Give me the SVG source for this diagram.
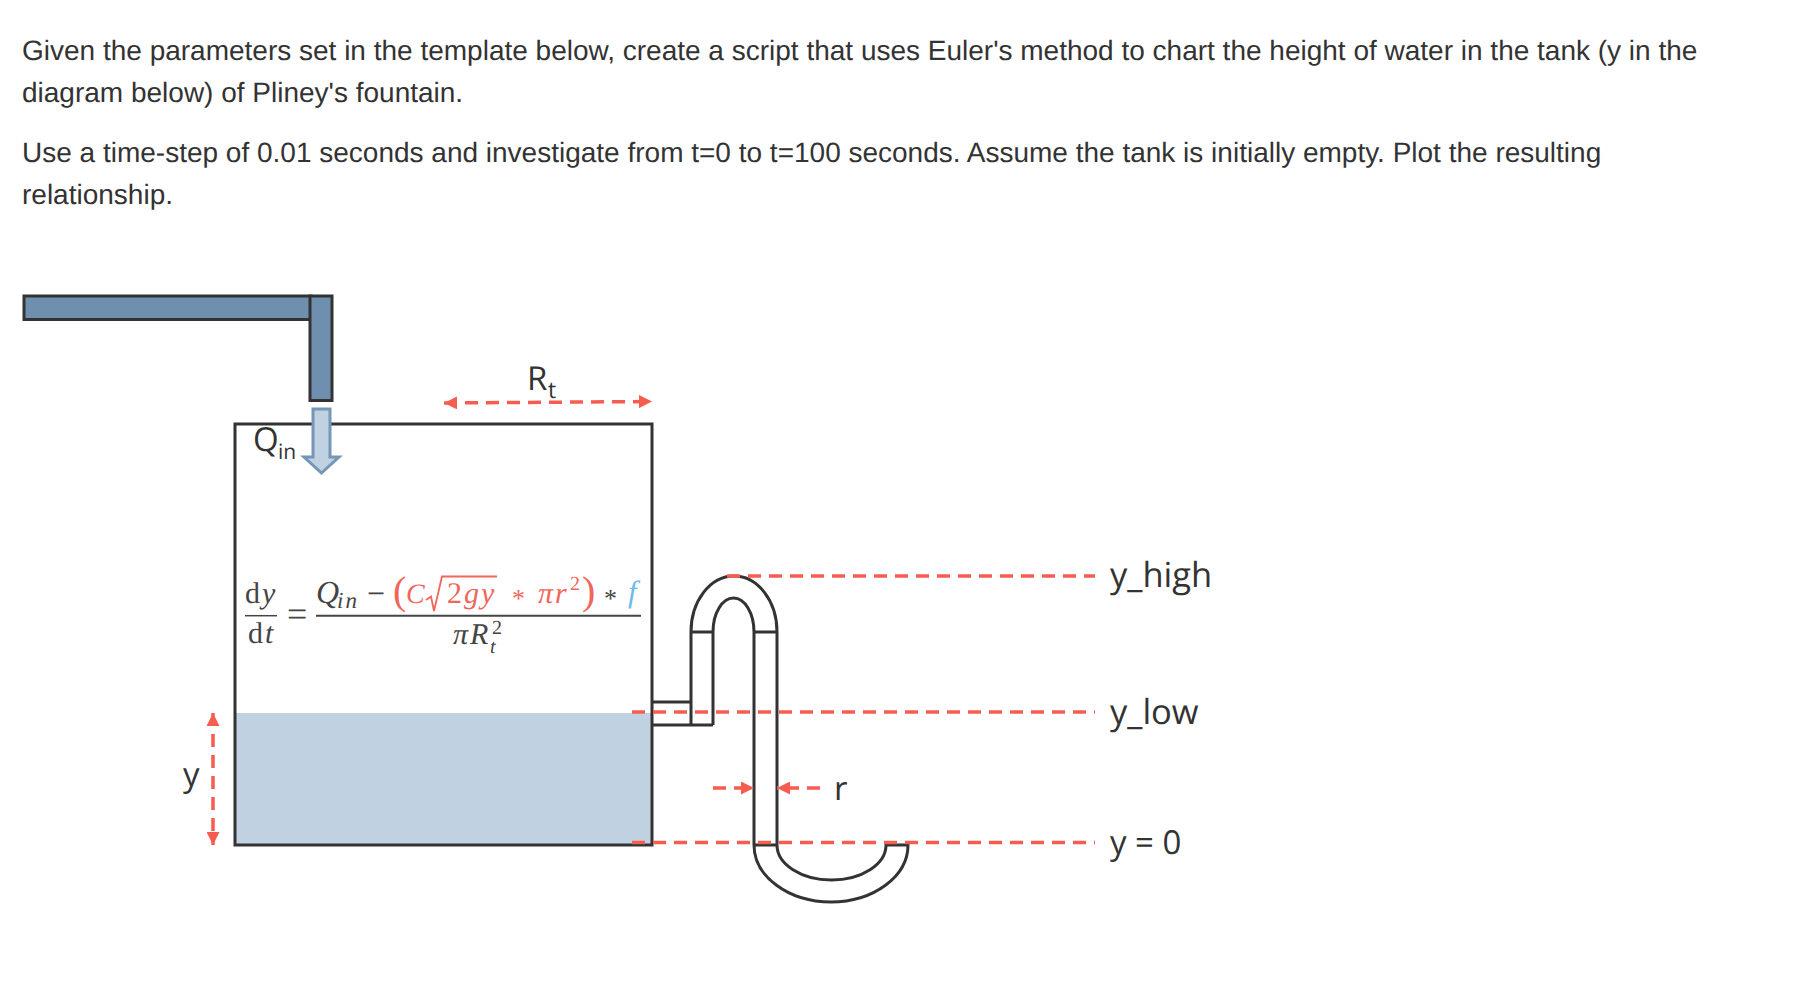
<svg xmlns="http://www.w3.org/2000/svg" width="1796" height="986" viewBox="0 0 1796 986">
<style>
text{text-rendering:geometricPrecision}
.p{font:28px "Liberation Sans",Arial,sans-serif;fill:#333}
.l{font-family:"Open Sans","Noto Sans",sans-serif;font-size:33px;fill:#333}
.h{font-size:34.500px}
.u{font-family:"Open Sans","Noto Sans",sans-serif;font-size:21px;fill:#333}
.s{fill:none;stroke:#333;stroke-width:3}
.d{fill:none;stroke:#f65d50;stroke-width:3.5;stroke-dasharray:13 8}
.m{font-family:"Liberation Serif","DejaVu Serif",serif;font-size:30px;fill:#444}
.i{font-style:italic}
.t{font-size:20px}
.r{fill:#f0665a}
.b{fill:#6fb9f0}
</style>
<defs>
<marker id="ah" viewBox="0 0 13 13" refX="13" refY="6.500" markerUnits="userSpaceOnUse" markerWidth="13" markerHeight="13" orient="auto-start-reverse"><path d="M0 0L13 6.500L0 13z" fill="#f65d50"/></marker>
</defs>
<rect width="1796" height="986" fill="#fff"/>
<g id="text">
<text class="p" x="22" y="60">Given the parameters set in the template below, create a script that uses Euler's method to chart the height of water in the tank (y in the</text>
<text class="p" x="22" y="102">diagram below) of Pliney's fountain.</text>
<text class="p" x="22" y="162">Use a time-step of 0.01 seconds and investigate from t=0 to t=100 seconds. Assume the tank is initially empty. Plot the resulting</text>
<text class="p" x="22" y="204">relationship.</text>
</g>
<g id="pipe">
<rect x="24" y="296" width="287" height="23.500" fill="#6e8fae" stroke="#333" stroke-width="3"/>
<rect x="310" y="296" width="22" height="104.500" fill="#6e8fae" stroke="#333" stroke-width="3"/>
</g>
<g id="tank">
<rect x="235" y="713" width="417" height="132" fill="#c0d1e1"/>
<rect x="235" y="424" width="417" height="421" class="s"/>
</g>
<g id="inflow">
<path d="M313 409H330V457H339L321.500 473L304 457H313Z" fill="#c0d1e1" stroke="#7596b5" stroke-width="3"/>
<text class="l" x="253" y="451">Q</text>
<text class="u" x="278" y="459">in</text>
</g>
<g id="equation">
<text class="m" x="245" y="603">d</text>
<text class="m i" x="262" y="603">y</text>
<path d="M245 615.700H277" stroke="#444" stroke-width="1.500"/>
<text class="m" x="248" y="643">d</text>
<text class="m i" x="265" y="643">t</text>
<text class="m" x="287" y="626" style="font-size:36px">=</text>
<path d="M316 615.700H641" stroke="#444" stroke-width="2"/>
<text class="m i" x="316" y="603" style="font-size:32px">Q</text>
<text class="m i" x="337" y="608" style="font-size:23px;letter-spacing:2px">in</text>
<text class="m" x="367" y="604" style="font-size:32px">−</text>
<text class="m r" x="393" y="604" style="font-size:40px">(</text>
<text class="m i r" x="406" y="603" style="font-size:28px">C</text>
<path d="M426 600L431 596.500L434 611L442 576.500H497" fill="none" stroke="#f0665a" stroke-width="1.800"/>
<text class="m r" x="447" y="603" style="letter-spacing:2px">2<tspan class="i">gy</tspan></text>
<text class="m r" x="512" y="607" style="font-size:26px">*</text>
<text class="m i r" x="538" y="603">π</text>
<text class="m i r" x="555" y="603">r</text>
<text class="m r t" x="570" y="590">2</text>
<text class="m r" x="582" y="604" style="font-size:40px">)</text>
<text class="m" x="604" y="607" style="font-size:26px">*</text>
<text class="m i b" x="628" y="602" style="font-size:31px">f</text>
<text class="m i" x="453" y="644">π</text>
<text class="m i" x="470" y="644">R</text>
<text class="m t" x="492" y="634">2</text>
<text class="m i t" x="490" y="653">t</text>
</g>
<g id="siphon" class="s">
<path d="M652 702H691M652 725H713M691 725V632A43 56 0 0 1 777 632V845"/>
<path d="M713 725V632A20.500 34 0 0 1 754 632V845"/>
<path d="M691 632H713M754 632H777"/>
<path d="M754 845H777M754 845A77 57 0 0 0 908 845H886A54.500 35 0 0 1 777 845"/>
</g>
<g id="connectors">
<path class="d" d="M727 576H1095"/>
<path class="d" d="M632 712H1095"/>
<path class="d" d="M632 842.500H1095"/>
<path class="d" d="M713 788H754" marker-end="url(#ah)"/>
<path class="d" d="M820 788H777" marker-end="url(#ah)"/>
<path class="d" d="M444 403L652 401.500" marker-start="url(#ah)" marker-end="url(#ah)"/>
<path class="d" d="M213 713V845" marker-start="url(#ah)" marker-end="url(#ah)"/>
</g>
<g id="labels">
<text class="l h" x="1110" y="587">y_high</text>
<text class="l h" x="1110" y="724">y_low</text>
<text class="l" x="1110" y="854">y = 0</text>
<text class="l" x="834" y="800">r</text>
<text class="l" x="183" y="786">y</text>
<text class="l" x="527" y="390">R</text>
<text class="u" x="548" y="398" style="font-size:23px">t</text>
</g>
</svg>
